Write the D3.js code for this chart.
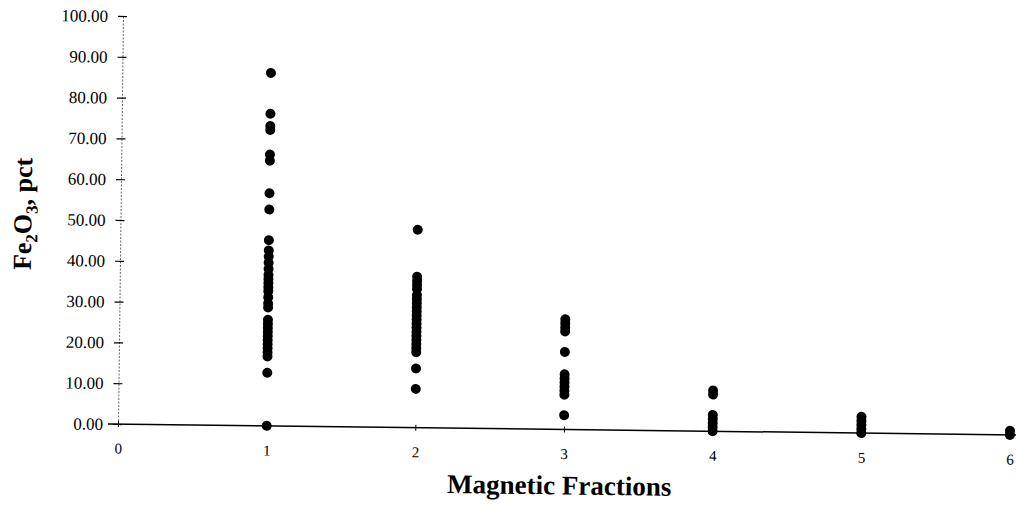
<!DOCTYPE html>
<html><head><meta charset="utf-8">
<script src="https://cdn.jsdelivr.net/npm/d3@7"></script>
<style>html,body{margin:0;padding:0;background:#fff;}svg{display:block;}</style>
</head><body>
<svg id="c" width="1016" height="509"></svg>
<script>
// Fe2O3 (pct) readings per magnetic fraction
const fraction1 = [86.5, 76.5, 73.5, 72.5, 66.5, 65, 57, 53, 45.5, 43, 41.5, 40, 38.5, 37, 36, 35, 34, 33, 31.5, 30, 29, 26, 25, 24, 23, 22, 21, 20, 19, 18, 17, 13, 0];
const fraction2 = [48.5, 37, 36, 35, 34, 32.5, 31.5, 30.5, 29.5, 28.5, 27.5, 26.5, 25.5, 24.5, 23.5, 22.5, 21.5, 20.5, 19.5, 18.5, 14.5, 9.5];
const fraction3 = [27, 26, 25, 24, 19, 13.5, 12.5, 11.5, 10.5, 9.5, 8.5, 3.5];
const fraction4 = [10, 9, 4, 3, 2, 1, 0];
const fraction5 = [4, 3, 2, 1, 0];
const fraction6 = [1, 0];
const fractions = [1, 2, 3, 4, 5, 6];
const xTicks = [0, 1, 2, 3, 4, 5, 6];
const yTicks = [0, 10, 20, 30, 40, 50, 60, 70, 80, 90, 100];

const series = [fraction1, fraction2, fraction3, fraction4, fraction5, fraction6];
const points = [];
series.forEach((vals, i) => vals.forEach(v => points.push({x: fractions[i], y: v})));

const svg = d3.select("#c");
const x = d3.scaleLinear().domain([0, 6]).range([118, 1010]);
const y = d3.scaleLinear().domain([0, 100]).range([424, 16]);
const serif = "'Liberation Serif', 'DejaVu Serif', serif";

// whole scanned page is slightly rotated
const g = svg.append("g").attr("transform", `rotate(0.7, ${x(0)}, ${y(0)})`);

// Y axis
const yAxis = g.append("g").attr("transform", `translate(${x(0)},0)`)
  .call(d3.axisLeft(y).tickValues(yTicks).tickFormat(d3.format(".2f")).tickSize(5).tickSizeOuter(0));
yAxis.select(".domain").attr("stroke", "#666").attr("stroke-dasharray", "2,1.5").attr("stroke-width", 1);
yAxis.selectAll(".tick line").attr("x1", 4).attr("x2", -5).attr("stroke", "#000").attr("stroke-width", 1.2);
yAxis.selectAll(".tick text").attr("x", -15).attr("font-family", serif).attr("font-size", 17).attr("fill", "#000");

// X axis
const xAxis = g.append("g").attr("transform", `translate(0,${y(0)})`)
  .call(d3.axisBottom(x).tickValues(xTicks).tickFormat(d3.format("d")).tickSize(3).tickSizeOuter(0));
xAxis.select(".domain").remove();
xAxis.selectAll(".tick line").attr("y1", -3).attr("y2", 3).attr("stroke", "#000");
xAxis.selectAll(".tick text").attr("y", 19).attr("font-family", serif).attr("font-size", 15).attr("fill", "#000");
g.append("line")
  .attr("x1", x(0) - 10).attr("x2", x(6.2))
  .attr("y1", y(0)).attr("y2", y(0))
  .attr("stroke", "#000").attr("stroke-width", 1.5);

// points
g.append("g").selectAll("circle").data(points).join("circle")
  .attr("cx", d => x(d.x)).attr("cy", d => y(d.y)).attr("r", 5).attr("fill", "#000");

// axis titles
g.append("text")
  .attr("x", 560).attr("y", 489).attr("text-anchor", "middle")
  .attr("font-family", serif).attr("font-weight", "bold").attr("font-size", 27).attr("fill", "#000")
  .text("Magnetic Fractions");

const yt = g.append("text")
  .attr("transform", "translate(29,215) rotate(-90)").attr("text-anchor", "middle")
  .attr("font-family", serif).attr("font-weight", "bold").attr("font-size", 26).attr("fill", "#000");
yt.append("tspan").text("Fe");
yt.append("tspan").attr("font-size", 17).attr("dy", 6).text("2");
yt.append("tspan").attr("dy", -6).text("O");
yt.append("tspan").attr("font-size", 17).attr("dy", 6).text("3");
yt.append("tspan").attr("dy", -6).text(", pct");
</script>
</body></html>
